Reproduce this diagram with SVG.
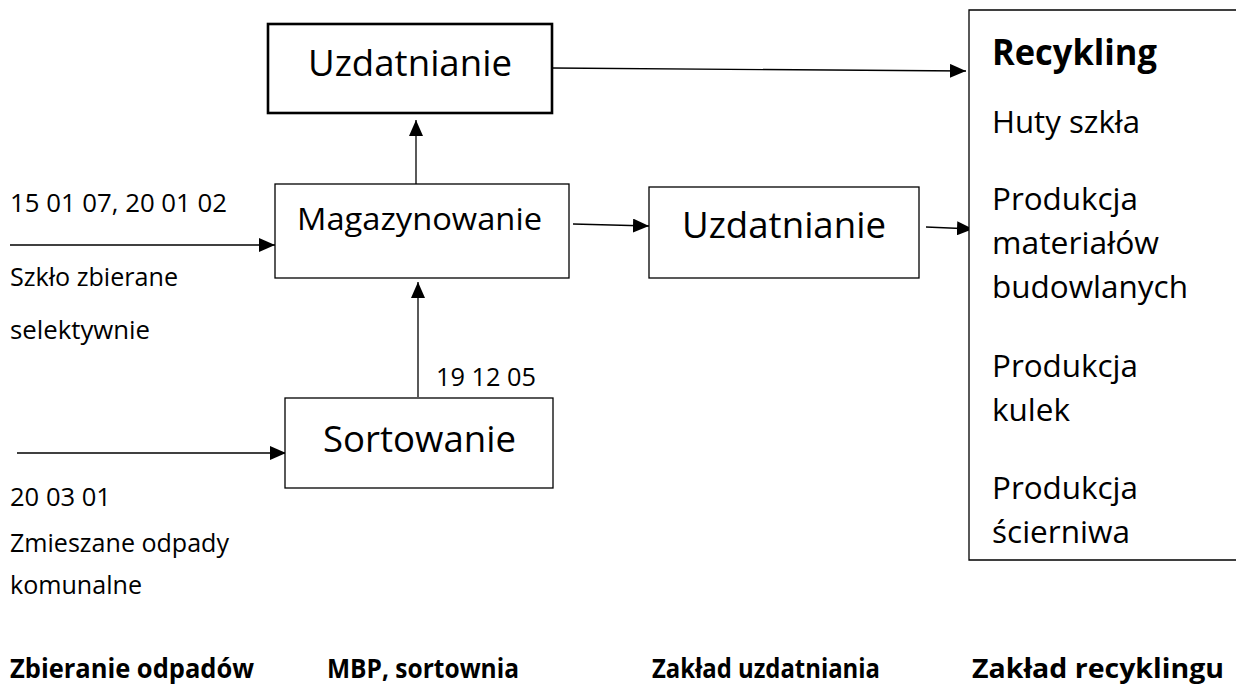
<svg xmlns="http://www.w3.org/2000/svg" width="1236" height="685" viewBox="0 0 1236 685">
<style>
  .box{fill:#fff;stroke:#000;stroke-width:1.3}
  .boxb{fill:#fff;stroke:#000;stroke-width:2.6}
  .t{font-family:"Open Sans","Noto Sans","Liberation Sans",sans-serif;fill:#000}
  .big{font-size:36.5px}
  .mid{font-size:31.5px}
  .sm{font-size:25px}
  .bold{font-weight:bold}
  .lbl{font-size:26px;font-weight:bold}
  .conn{stroke:#000;stroke-width:1.3;fill:none;marker-end:url(#ah)}
</style>
<defs>
  <marker id="ah" markerWidth="16" markerHeight="14" refX="16" refY="7" orient="auto" markerUnits="userSpaceOnUse">
    <path d="M0,0 L16,7 L0,14 z" fill="#000"/>
  </marker>
</defs>
<rect width="1236" height="685" fill="#fff"/>

<g id="connectors">
  <line class="conn" x1="552" y1="68" x2="966" y2="71"/>
  <line class="conn" x1="416" y1="184" x2="416" y2="120"/>
  <line class="conn" x1="418" y1="397" x2="418" y2="282"/>
  <line class="conn" x1="573" y1="224" x2="649" y2="226"/>
  <line class="conn" x1="926" y1="227" x2="973" y2="229"/>
  <line class="conn" x1="10" y1="245" x2="275" y2="245"/>
  <line class="conn" x1="17" y1="453" x2="286" y2="453"/>
</g>

<g id="node-uzdatnianie-top">
  <rect class="boxb" x="268" y="24" width="284" height="89"/>
  <text class="t big" x="308" y="76" textLength="204" lengthAdjust="spacingAndGlyphs">Uzdatnianie</text>
</g>

<g id="node-magazynowanie">
  <rect class="box" x="275" y="184" width="294" height="94"/>
  <text class="t mid" x="297" y="230" textLength="245" lengthAdjust="spacingAndGlyphs">Magazynowanie</text>
</g>

<g id="node-uzdatnianie-mid">
  <rect class="box" x="649" y="187" width="270" height="91"/>
  <text class="t big" x="682" y="238" textLength="204" lengthAdjust="spacingAndGlyphs">Uzdatnianie</text>
</g>

<g id="node-sortowanie">
  <rect class="box" x="285" y="398" width="268" height="90"/>
  <text class="t big" x="323" y="452" textLength="193" lengthAdjust="spacingAndGlyphs">Sortowanie</text>
</g>

<g id="node-recykling">
  <path d="M1240,10 H969 V560 H1240" fill="#fff" stroke="#000" stroke-width="1.3"/>
  <text class="t bold" style="font-size:35px" x="992" y="65" textLength="165" lengthAdjust="spacingAndGlyphs">Recykling</text>
  <text class="t mid" x="992" y="133" textLength="148" lengthAdjust="spacingAndGlyphs">Huty szkła</text>
  <text class="t mid" x="992" y="210" textLength="146" lengthAdjust="spacingAndGlyphs">Produkcja</text>
  <text class="t mid" x="992" y="254" textLength="167" lengthAdjust="spacingAndGlyphs">materiałów</text>
  <text class="t mid" x="992" y="298" textLength="196" lengthAdjust="spacingAndGlyphs">budowlanych</text>
  <text class="t mid" x="992" y="377" textLength="146" lengthAdjust="spacingAndGlyphs">Produkcja</text>
  <text class="t mid" x="992" y="421" textLength="78" lengthAdjust="spacingAndGlyphs">kulek</text>
  <text class="t mid" x="992" y="499" textLength="146" lengthAdjust="spacingAndGlyphs">Produkcja</text>
  <text class="t mid" x="992" y="543" textLength="138" lengthAdjust="spacingAndGlyphs">ścierniwa</text>
</g>

<g id="labels">
  <text class="t sm" x="10" y="212" textLength="217" lengthAdjust="spacingAndGlyphs">15 01 07, 20 01 02</text>
  <text class="t sm" x="10" y="286" textLength="168" lengthAdjust="spacingAndGlyphs">Szkło zbierane</text>
  <text class="t sm" x="10" y="339" textLength="140" lengthAdjust="spacingAndGlyphs">selektywnie</text>
  <text class="t sm" x="436" y="386" textLength="100" lengthAdjust="spacingAndGlyphs">19 12 05</text>
  <text class="t sm" x="10" y="506" textLength="101" lengthAdjust="spacingAndGlyphs">20 03 01</text>
  <text class="t sm" x="10" y="552" textLength="219" lengthAdjust="spacingAndGlyphs">Zmieszane odpady</text>
  <text class="t sm" x="10" y="594" textLength="132" lengthAdjust="spacingAndGlyphs">komunalne</text>
  <text class="t lbl" x="10" y="678" textLength="244" lengthAdjust="spacingAndGlyphs">Zbieranie odpadów</text>
  <text class="t lbl" x="327" y="678" textLength="192" lengthAdjust="spacingAndGlyphs">MBP, sortownia</text>
  <text class="t lbl" x="652" y="678" textLength="228" lengthAdjust="spacingAndGlyphs">Zakład uzdatniania</text>
  <text class="t lbl" x="972" y="678" textLength="252" lengthAdjust="spacingAndGlyphs">Zakład recyklingu</text>
</g>
</svg>
